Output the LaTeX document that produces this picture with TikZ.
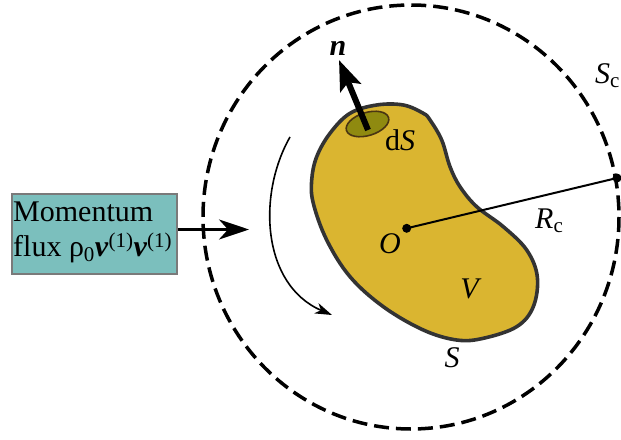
\documentclass[tikz,border=0pt]{standalone}
\usepackage{fontspec}
\setmainfont{Liberation Serif}
\newfontfamily\tnr{Liberation Serif}
\usetikzlibrary{arrows.meta}
\definecolor{blobfill}{HTML}{DAB530}
\definecolor{blobline}{HTML}{333333}
\definecolor{dsfill}{HTML}{8F8A10}
\definecolor{dsline}{HTML}{4A3512}
\definecolor{boxfill}{HTML}{7BBFBD}
\definecolor{boxline}{HTML}{7A7A7A}
\begin{document}
\begin{tikzpicture}[x=1pt,y=-1pt,
  lab/.style={inner sep=0pt, font=\tnr\fontsize{30}{35}\selectfont},
  fluxbox/.style={draw=boxline, line width=2pt, fill=boxfill, inner sep=0pt,
    minimum width=164.7pt, minimum height=80pt, anchor=north west},
  bigarrow/.style={line width=3pt, -{Stealth[length=30pt,width=20pt,inset=9pt]}},
  normalarrow/.style={line width=6pt, -{Stealth[length=30pt,width=22pt,inset=6pt]}},
  turnarrow/.style={line width=1.6pt, -{Stealth[length=17pt,width=11pt,inset=5pt]}},
  ctrlsurf/.style={line width=3.5pt, dash pattern=on 15pt off 7pt},
  blobstyle/.style={draw=blobline, line width=3.6pt, fill=blobfill},
  dsstyle/.style={draw=dsline, line width=1.6pt, fill=dsfill},
  dotstyle/.style={circle, fill=black, inner sep=0pt, minimum size=9pt}]
\useasboundingbox (0,0) rectangle (621,439);

% control surface S_c
\draw[ctrlsurf] (411,217) ellipse [x radius=208, y radius=212];

% body
\draw[blobstyle] plot[smooth cycle, tension=0.6] coordinates {
 (403.3,105) (423.3,113.3) (430,120) (441.7,140) (450,166.7) (460,186.7)
 (476.7,206.7) (503.3,226.7) (526.7,250) (537.3,276.7) (533.3,306.7)
 (516.7,326.7) (483.3,338.3) (456.7,340) (423.3,330) (383.3,306.7)
 (350,276.7) (326.7,240) (313.3,203.3) (311.7,180) (316.7,156.7)
 (330,133.3) (350,113.3) (376.7,105)};

% surface element dS
\coordinate (ds) at (367.5,124);
\draw[dsstyle, rotate around={17:(ds)}] (ds) ellipse [x radius=22, y radius=11.5];

% normal n
\coordinate (ntip) at (339,60);
\draw[normalarrow] (368,130) -- (ntip);

% radius R_c
\node[dotstyle] (O) at (406.7,228.3) {};
\node[dotstyle] (Rend) at (617,178) {};
\draw[line width=2pt] (O.center) -- (Rend.center);

% rotation arrow
\coordinate (t0) at (290,137);
\coordinate (t1) at (332,315);
\draw[turnarrow] (t0) .. controls (257,195) and (262,285) .. (t1);

% momentum flux box
\node[fluxbox] (box) at (11,193) {};
\node[lab, anchor=base west] (l1) at (13,221.3) {Momentum};
\node[lab, anchor=base west] (l2) at (13,256.3) {flux ρ\textsubscript{0}\textbf{\textit{v}}\textsuperscript{(1)}\textbf{\textit{v}}\textsuperscript{(1)}};
\coordinate (boxtip) at (249,229.5);
\draw[bigarrow] (box.east |- boxtip) -- (boxtip);

% labels
\node[lab, anchor=base] (nlab) at (338,55) {\textbf{\textit{n}}};
\node[lab, anchor=base] (dslab) at (400,150) {d\textit{S}};
\node[lab, anchor=base] (Olab) at (390,253.3) {\textit{O}};
\node[lab, anchor=base] (Vlab) at (471,298.3) {\textit{V}};
\node[lab, anchor=base] (Slab) at (452,367) {\textit{S}};
\node[lab, anchor=base west] (Rlab) at (535,228.3) {\textit{R}\textsubscript{c}};
\node[lab, anchor=base west] (Sclab) at (595,83.3) {\textit{S}\textsubscript{c}};
\end{tikzpicture}
\end{document}
